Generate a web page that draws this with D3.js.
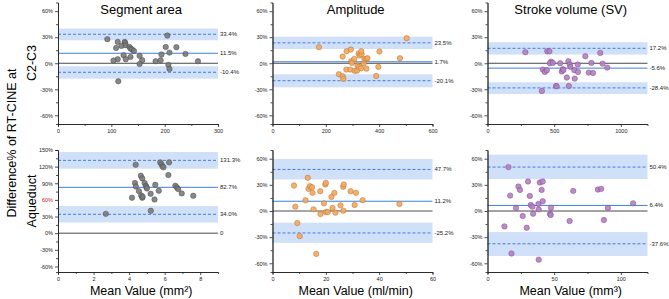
<!DOCTYPE html>
<html>
<head>
<meta charset="utf-8">
<script src="https://cdn.jsdelivr.net/npm/d3@7"></script>
<style>
  body { margin: 0; background: #fff; }
  svg { font-family: "Liberation Sans", Arial, sans-serif; }
  .tick text { font-size: 5.5px; fill: #222; }
  .axis path, .axis line { stroke: #222; stroke-width: 0.8; }
</style>
</head>
<body>
<div id="chart"></div>
<script>
// ---- data: [mean, difference%] ----
var titles = ["Segment area", "Amplitude", "Stroke volume (SV)"];
var rowNames = ["C2-C3", "Aqueduct"];

var c2Area = [[92.5,27.7],[112,24.6],[109,17.7],[119,20],[125,24.6],[126,23.5],[127,20.8],[134,18.8],[136,16.9],[139,15.8],[142.5,14.2],[123,9.2],[136,7.3],[127,4.6],[112,4.6],[104,3.1],[153,8.5],[158,3.5],[153,-0.8],[113,-20.8],[183,2.3],[192.5,3.5],[194,10],[202,18.8],[205,31.9],[209,12.3],[207,-1.9],[209,-6.5],[222,18.5],[239,10.8],[262.5,2.3]];
var c2Amp = [[174,18.5],[503,28.8],[478,5.8],[401,13.5],[397,-4.2],[389,-14.6],[278,13.8],[294,15.8],[263,7.7],[249,-12.7],[263,-15],[266,-18],[277,-7.3],[292,-7.3],[295,2.3],[298,0.4],[307,5],[308,-8.8],[317,-8.5],[319,-2.7],[323,11.2],[327,8.8],[334,10.4],[333,13.8],[325,-4.2],[332,-5.8],[342,0],[345,4.6],[352,5],[356,5.8],[352,-6.2]];
var c2SV = [[284,12.7],[448,13.8],[465,13.8],[477,1.9],[468,0],[490,0.4],[415,-7.3],[430,-10],[445,-8],[408,-31.9],[515,-26.2],[518,-26.5],[545,0],[557,-9.6],[565,-6.9],[570,-7.7],[595,-16.5],[607,2.3],[610,-26.2],[617,-1.5],[622,-4.2],[652,-8],[654,-17.7],[677,-1.5],[679,-10],[734,8],[759,-10.8],[779,0.4],[791,-11.2],[846,11.9],[863,-0.4],[898,-5]];
var aqArea = [[2.69,34.9],[4.37,123.5],[4.33,90.4],[4.38,84.3],[4.16,63.9],[4.55,75.9],[4.66,103.6],[4.74,98.8],[4.68,68.1],[4.74,63.9],[4.76,65.7],[4.87,90.4],[4.94,85.5],[4.98,83.1],[5.0,80.7],[5.21,71.1],[5.22,40.4],[5.43,60.8],[5.47,87.3],[5.67,76.5],[5.75,127.7],[5.82,124.1],[5.88,120.5],[5.93,118.7],[6.25,127.7],[6.21,104.8],[6.6,85.5],[6.69,82.5],[6.76,79.5],[6.96,71.7],[7.61,67.5]];
var aqAmp = [[8.07,29.2],[8.57,5],[9.3,-13.8],[10.2,-28.8],[13.2,38.1],[13.5,25.4],[14,28.5],[14.8,27.3],[15,20.8],[12.4,12.3],[15.4,1.9],[17.9,22.7],[18,-3.5],[19.3,8.8],[19.8,30.4],[20,32.3],[20,-1.2],[20.7,-1.2],[22.1,16.2],[22.5,3.5],[23.2,20.8],[23.6,-1.9],[25.5,6.5],[26.5,27.7],[26.7,30.4],[26.6,0.4],[29.3,22.7],[30.8,6.9],[31.3,20.8],[33.8,12.3],[47.6,8.1],[16.4,-49.2]];
var aqSV = [[15.7,50.4],[17,17.7],[12.7,-17.7],[18,-48.8],[21.4,3.5],[23.2,28.1],[24.4,24.2],[26.4,-5.8],[29.4,-19.2],[30.4,33.8],[31.7,17.3],[32.4,6.9],[33.7,5],[34.2,-3.1],[38.2,8.1],[38.4,1.9],[38.4,-55.8],[39.2,32.7],[40.6,24.2],[41.4,33.8],[41.4,11.2],[46.9,-3.5],[47.4,-4.6],[47.6,3.8],[61.6,-11.5],[64.3,23.1],[82.8,24.6],[85.3,25.4],[87.3,-10.4],[90.3,3.5],[109.2,8.8]];

// bias and limits of agreement: [upper, mean, lower]
var limits = [[33.4,11.5,-10.4],[23.5,1.7,-20.1],[17.2,-5.6,-28.4],[131.3,82.7,34.0],[47.7,11.2,-25.2],[50.4,6.4,-37.6]];
// confidence bands of the limits: [upperHi, upperLo, lowerHi, lowerLo]
var bands = [[40,26.5,-3.5,-17.7],[30.6,16.4,-12.7,-27.7],[24.2,10,-21.9,-35.4],[146.5,116.4,48.8,19.3],[59.6,36.2,-13.4,-36.5],[64.6,36.6,-24.2,-51.6]];

var xDomains = [[0,300],[0,600],[0,1200],[0,9],[0,60],[0,120]];
var xTicks = [[0,100,200,300],[0,200,400,600],[0,500,1000],[0,2,4,6,8],[0,20,40,60],[0,50,100]];
var yDomains = [[-70,70],[-70,70],[-70,70],[-70,150],[-70,70],[-70,70]];
var yTicks = [[-60,-30,0,30,60],[-60,-30,0,30,60],[-60,-30,0,30,60],[-60,-30,0,30,60,90,120,150],[-60,-30,0,30,60],[-60,-30,0,30,60]];
var xLabels = ["Mean Value (mm²)", "Mean Value (ml/min)", "Mean Value (mm³)"];

var panels = [c2Area, c2Amp, c2SV, aqArea, aqAmp, aqSV];
var fills = ["#7a7a7a", "#f2a95e", "#b57fc2"];
var strokes = ["#4a4a4a", "#b8702c", "#7d4a8c"];

var width = 669, height = 299;
var colX = [58, 272.5, 487.5], plotW = 160;
var rowY = [[2.5, 124], [150, 272]];

var svg = d3.select("#chart").append("svg")
    .attr("width", width)
    .attr("height", height);

panels.forEach(function (pts, i) {
    var col = i % 3, row = Math.floor(i / 3);
    var x = d3.scaleLinear().domain(xDomains[i]).range([colX[col], colX[col] + plotW]);
    var y = d3.scaleLinear().domain(yDomains[i]).range([rowY[row][1], rowY[row][0]]);
    var g = svg.append("g");
    var x0 = x.range()[0], x1 = x.range()[1];

    // CI bands
    var b = bands[i];
    [[b[0], b[1]], [b[2], b[3]]].forEach(function (bb) {
        g.append("rect")
            .attr("x", x0).attr("width", x1 - x0)
            .attr("y", y(bb[0])).attr("height", y(bb[1]) - y(bb[0]))
            .attr("fill", "#cfe0f8");
    });

    // zero line
    g.append("line")
        .attr("x1", x0).attr("x2", x1)
        .attr("y1", y(0)).attr("y2", y(0))
        .attr("stroke", i == 4 ? "#8a8a8a" : "#333")
        .attr("stroke-width", i == 4 ? 1.6 : 0.9);

    var L = limits[i];
    [0, 1, 2].forEach(function (k) {
        g.append("line")
            .attr("x1", x0).attr("x2", x1)
            .attr("y1", y(L[k])).attr("y2", y(L[k]))
            .attr("stroke", "#3f7fe0")
            .attr("stroke-width", 1)
            .attr("stroke-dasharray", k == 1 ? null : "3,2");
        g.append("text")
            .attr("x", x1 + 2).attr("y", y(L[k]) + 2)
            .attr("font-size", 6).attr("fill", "#222")
            .text(L[k].toFixed(1) + "%");
    });
    if (i == 3) {
        g.append("text")
            .attr("x", x1 + 2).attr("y", y(0) + 2)
            .attr("font-size", 6).attr("fill", "#222")
            .text("0");
    }

    // points
    g.append("g").selectAll("circle")
        .data(pts)
        .enter().append("circle")
        .attr("cx", d => x(d[0]))
        .attr("cy", d => y(d[1]))
        .attr("r", 2.7)
        .attr("fill", fills[col])
        .attr("stroke", strokes[col])
        .attr("stroke-width", 0.5)
        .attr("fill-opacity", 0.9);

    // axes, with minor ticks
    var xs = xTicks[i], stepX = xs[1] - xs[0];
    var minorX = d3.range(xDomains[i][0] + stepX / 2, xDomains[i][1], stepX);
    g.append("g").attr("class", "axis")
        .attr("transform", "translate(0," + y.range()[0] + ")")
        .call(d3.axisBottom(x).tickValues(minorX).tickSize(2).tickFormat(""));
    g.append("g").attr("class", "axis")
        .attr("transform", "translate(0," + y.range()[0] + ")")
        .call(d3.axisBottom(x).tickValues(xs).tickSize(3).tickSizeOuter(0).tickPadding(2)
            .tickFormat(d3.format("d")));

    var minorY = d3.range(-60, yDomains[i][1], 15).filter(v => v % 30 != 0);
    g.append("g").attr("class", "axis")
        .attr("transform", "translate(" + x0 + ",0)")
        .call(d3.axisLeft(y).tickValues(minorY).tickSize(2).tickFormat(""));
    var yAx = g.append("g").attr("class", "axis")
        .attr("transform", "translate(" + x0 + ",0)")
        .call(d3.axisLeft(y).tickValues(yTicks[i]).tickSize(3).tickSizeOuter(0).tickPadding(2)
            .tickFormat(d => d + "%"));
    if (i == 3) {
        yAx.selectAll(".tick text").filter(d => d == 60).style("fill", "#d02020");
    }

    if (row == 0) {
        svg.append("text")
            .attr("x", x0 + plotW * 0.52).attr("y", 14)
            .attr("text-anchor", "middle")
            .attr("font-size", 13)
            .text(titles[col]);
    } else {
        svg.append("text")
            .attr("x", x0 + plotW * 0.52).attr("y", 295)
            .attr("text-anchor", "middle")
            .attr("font-size", 12.5)
            .text(xLabels[col]);
    }
});

// left labels
svg.append("text")
    .attr("transform", "translate(16,143) rotate(-90)")
    .attr("text-anchor", "middle")
    .attr("font-size", 12.5)
    .text("Difference% of RT-CINE at");
svg.append("text")
    .attr("transform", "translate(36,63) rotate(-90)")
    .attr("text-anchor", "middle")
    .attr("font-size", 12.5)
    .text(rowNames[0]);
svg.append("text")
    .attr("transform", "translate(36,201) rotate(-90)")
    .attr("text-anchor", "middle")
    .attr("font-size", 12.5)
    .text(rowNames[1]);
</script>
</body>
</html>
